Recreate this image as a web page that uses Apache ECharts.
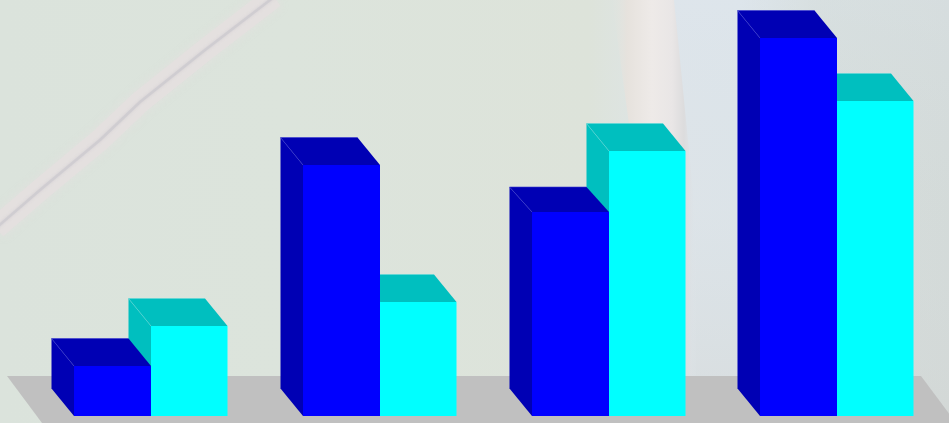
<!DOCTYPE html>
<html>
<head>
<meta charset="utf-8">
<style>html,body{margin:0;padding:0;background:#dbe3dc}#c{width:949px;height:423px}</style>
<script src="https://cdn.jsdelivr.net/npm/echarts@6/dist/echarts.min.js"></script>
</head>
<body>
<div id="c"></div>
<script>
const categories = ['1', '2', '3', '4'];
const blueValues = [50, 251, 204, 378];
const cyanValues = [90, 114, 265, 315];
const axisMax = 416;

const chart = echarts.init(document.getElementById('c'), null, {renderer: 'canvas'});
const DX = -22.5, DY = -27.5;
const blueTopRise = [27.5, 27.5, 25, 27.5];

function box(front, side, top, edge, leftOf, widthOf, rise) {
  return function (params, api) {
    const i = api.value(0);
    const p = api.coord([i, api.value(1)]);
    const base = api.coord([i, 0]);
    const c = Math.round(p[0]);
    const l = leftOf(c), r = l + widthOf, t = Math.round(p[1]), b = base[1];
    const dy = rise ? -rise[i] : DY;
    const fill = col => ({fill: col, stroke: null});
    return {
      type: 'group',
      children: [
        {type: 'polygon', shape: {points: [[l, t], [l + DX, t + dy], [l + DX, b + DY], [l, b]]}, style: fill(side)},
        {type: 'polygon', shape: {points: [[l, t], [l + DX, t + dy], [r + DX, t + dy], [r, t]]}, style: fill(top)},
        {type: 'rect', shape: {x: l, y: t, width: widthOf, height: b - t}, style: fill(front)},
        {type: 'line', shape: {x1: l, y1: t, x2: l + DX, y2: t + dy}, style: {stroke: edge, lineWidth: 0.6}},
        {type: 'line', shape: {x1: l + DX, y1: t + dy, x2: r + DX, y2: t + dy}, style: {stroke: edge, lineWidth: 0.6}}
      ]
    };
  };
}

const streak = [[-4, 228], [40, 190], [100, 140], [140, 102], [205, 50], [274, -3]];

chart.setOption({
  animation: false,
  backgroundColor: {
    type: 'linear', x: 0, y: 0, x2: 1, y2: 0,
    colorStops: [
      {offset: 0, color: '#dbe3dc'},
      {offset: 0.3, color: '#dce4dc'},
      {offset: 0.62, color: '#dde3da'},
      {offset: 0.71, color: '#dee5ea'},
      {offset: 0.78, color: '#dde5ea'},
      {offset: 0.86, color: '#d5ddda'},
      {offset: 1, color: '#d3dad8'}
    ]
  },
  graphic: {
    elements: [
      {type: 'rect', silent: true, z: 0,
       shape: {x: 670, y: 0, width: 279, height: 423},
       style: {fill: {type: 'linear', x: 0, y: 0, x2: 0, y2: 1, colorStops: [
         {offset: 0, color: 'rgba(221,229,238,0.3)'},
         {offset: 0.5, color: 'rgba(214,220,222,0.15)'},
         {offset: 1, color: 'rgba(211,214,213,0.55)'}
       ]}}},
      {type: 'polyline', silent: true, z: 0,
       shape: {points: streak},
       style: {stroke: '#e6e0e0', fill: null, lineWidth: 22, opacity: 0.7, shadowBlur: 8, shadowColor: '#e6e0e0'}},
      {type: 'polyline', silent: true, z: 0,
       shape: {points: streak},
       style: {stroke: '#cdcbcf', fill: null, lineWidth: 2.5, opacity: 0.8, shadowBlur: 3, shadowColor: '#cdcbcf'}},
      {type: 'polygon', silent: true, z: 0,
       shape: {points: [[612, 0], [674, 0], [712, 380], [664, 380]]},
       style: {fill: {type: 'linear', x: 0, y: 0, x2: 1, y2: 0, colorStops: [
         {offset: 0, color: 'rgba(226,228,222,0)'},
         {offset: 0.15, color: '#e6e2dd'},
         {offset: 0.4, color: '#eeeae8'},
         {offset: 0.6, color: '#e9e6e6'},
         {offset: 0.72, color: '#dcdcdd'},
         {offset: 0.85, color: 'rgba(222,229,234,0)'},
         {offset: 1, color: 'rgba(222,229,234,0)'}
       ]}}},
      {type: 'polygon', silent: true, z: 1,
       shape: {points: [[7, 376], [921, 376], [956, 423], [42, 423]]},
       style: {fill: '#c0c0c0'}}
    ]
  },
  grid: {left: 0, right: 0, top: 0, height: 416},
  xAxis: {type: 'value', min: -0.66, max: 3.4878, show: false},
  yAxis: {type: 'value', min: 0, max: axisMax, show: false},
  tooltip: {show: false},
  series: [
    {name: 'Series 2', type: 'custom', z: 3, data: categories.map((c, i) => [i, cyanValues[i]]),
     encode: {x: 0, y: 1}, clip: false,
     renderItem: box('#00ffff', '#00bfbf', '#00bfbf', '#5fd9d9', c => c, 76.5)},
    {name: 'Series 1', type: 'custom', z: 4, data: categories.map((c, i) => [i, blueValues[i]]),
     encode: {x: 0, y: 1}, clip: false,
     renderItem: box('#0000ff', '#0000b4', '#0000b4', '#3a3ad0', c => c - 77, 77, blueTopRise)}
  ]
});
</script>
</body>
</html>
